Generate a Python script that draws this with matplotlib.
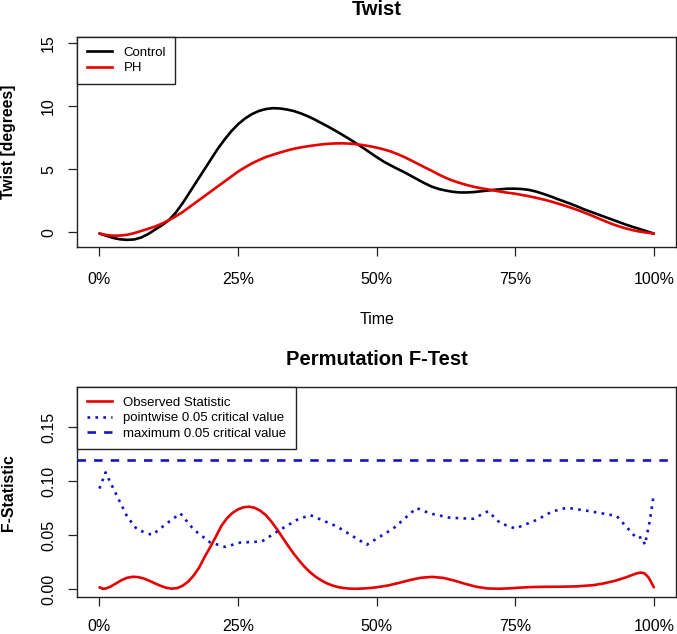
import matplotlib
matplotlib.use("Agg")
import matplotlib.pyplot as plt
from matplotlib.lines import Line2D

plt.rcParams['font.family'] = ['Liberation Sans', 'DejaVu Sans']

# ---------------- data ----------------
time_grid = [0.0, 0.0125, 0.025, 0.0375, 0.05, 0.0625, 0.075, 0.0875, 0.1, 0.1125,
             0.125, 0.1375, 0.15, 0.1625, 0.175, 0.1875, 0.2, 0.2125, 0.225, 0.2375,
             0.25, 0.2625, 0.275, 0.2875, 0.3, 0.3125, 0.325, 0.3375, 0.35, 0.3625,
             0.375, 0.3875, 0.4, 0.4125, 0.425, 0.4375, 0.45, 0.4625, 0.475, 0.4875,
             0.5, 0.5125, 0.525, 0.5375, 0.55, 0.5625, 0.575, 0.5875, 0.6, 0.6125,
             0.625, 0.6375, 0.65, 0.6625, 0.675, 0.6875, 0.7, 0.7125, 0.725, 0.7375,
             0.75, 0.7625, 0.775, 0.7875, 0.8, 0.8125, 0.825, 0.8375, 0.85, 0.8625,
             0.875, 0.8875, 0.9, 0.9125, 0.925, 0.9375, 0.95, 0.9625, 0.975, 0.9875, 1.0]
control_twist = [-0.10, -0.28, -0.45, -0.56, -0.60, -0.57, -0.42, -0.15, 0.20, 0.55,
                 0.95, 1.55, 2.30, 3.15, 4.00, 4.85, 5.70, 6.55, 7.30, 7.98,
                 8.55, 9.00, 9.35, 9.60, 9.75, 9.82, 9.80, 9.72, 9.60, 9.42,
                 9.20, 8.94, 8.65, 8.36, 8.05, 7.73, 7.40, 7.05, 6.70, 6.32,
                 5.95, 5.60, 5.30, 5.02, 4.75, 4.45, 4.15, 3.86, 3.60, 3.42,
                 3.30, 3.20, 3.15, 3.15, 3.18, 3.24, 3.30, 3.36, 3.41, 3.45,
                 3.45, 3.42, 3.35, 3.22, 3.05, 2.86, 2.65, 2.45, 2.25, 2.03,
                 1.80, 1.60, 1.40, 1.20, 1.00, 0.80, 0.60, 0.42, 0.25, 0.07, -0.10]
ph_twist = [-0.10, -0.22, -0.27, -0.26, -0.20, -0.07, 0.10, 0.27, 0.45, 0.68,
            0.95, 1.26, 1.60, 2.00, 2.40, 2.80, 3.20, 3.60, 4.00, 4.40,
            4.80, 5.14, 5.45, 5.71, 5.95, 6.13, 6.30, 6.46, 6.60, 6.71,
            6.80, 6.88, 6.95, 7.00, 7.03, 7.04, 7.02, 6.97, 6.90, 6.81,
            6.70, 6.56, 6.40, 6.19, 5.95, 5.68, 5.40, 5.12, 4.85, 4.56,
            4.30, 4.08, 3.90, 3.74, 3.60, 3.49, 3.40, 3.30, 3.20, 3.12,
            3.05, 2.95, 2.85, 2.73, 2.60, 2.46, 2.30, 2.13, 1.95, 1.76,
            1.55, 1.33, 1.10, 0.87, 0.65, 0.46, 0.30, 0.16, 0.05, -0.03, -0.10]

obs_t = [0.0, 0.006, 0.012, 0.02, 0.03, 0.04, 0.05, 0.06, 0.07, 0.08,
         0.09, 0.1, 0.11, 0.12, 0.13, 0.14, 0.15, 0.16, 0.17, 0.18,
         0.19, 0.2, 0.21, 0.22, 0.23, 0.24, 0.25, 0.26, 0.27, 0.28,
         0.29, 0.3, 0.31, 0.32, 0.33, 0.34, 0.35, 0.36, 0.37, 0.38,
         0.39, 0.4, 0.41, 0.42, 0.43, 0.44, 0.45, 0.46, 0.47, 0.48,
         0.49, 0.5, 0.52, 0.54, 0.56, 0.58, 0.6, 0.62, 0.64, 0.66,
         0.68, 0.7, 0.72, 0.74, 0.76, 0.78, 0.8, 0.83, 0.86, 0.89,
         0.91, 0.93, 0.95, 0.96, 0.97, 0.977, 0.983, 0.99, 0.995, 1.0]
obs_stat = [0.0016, 0.0002, 0.0005, 0.0022, 0.0052, 0.0082, 0.0104, 0.0113, 0.0110, 0.0097,
            0.0076, 0.0052, 0.0030, 0.0012, 0.0003, 0.0008, 0.0030, 0.0068, 0.0125, 0.0200,
            0.0300, 0.0390, 0.0485, 0.0585, 0.0655, 0.0705, 0.0738, 0.0757, 0.0762, 0.0752,
            0.0725, 0.0685, 0.0625, 0.0555, 0.0478, 0.0402, 0.0330, 0.0265, 0.0205, 0.0155,
            0.0113, 0.0080, 0.0053, 0.0033, 0.0018, 0.0009, 0.0004, 0.0002, 0.0003, 0.0006,
            0.0010, 0.0016, 0.0032, 0.0056, 0.0083, 0.0104, 0.0112, 0.0103, 0.0078, 0.0047,
            0.0020, 0.0005, 0.0002, 0.0006, 0.0013, 0.0018, 0.0020, 0.0021, 0.0024, 0.0035,
            0.0052, 0.0076, 0.0108, 0.0128, 0.0146, 0.0152, 0.0145, 0.0110, 0.0065, 0.0016]

crit_t = [0.0, 0.011, 0.026, 0.05, 0.068, 0.095, 0.122, 0.146, 0.17, 0.2,
          0.227, 0.254, 0.293, 0.32, 0.356, 0.38, 0.428, 0.482, 0.53, 0.572,
          0.596, 0.632, 0.674, 0.701, 0.723, 0.75, 0.789, 0.816, 0.843, 0.885,
          0.933, 0.969, 0.978, 0.984, 0.993, 1.0]
crit_pointwise = [0.093, 0.108, 0.092, 0.067, 0.055, 0.050, 0.061, 0.070, 0.055, 0.043,
                  0.039, 0.043, 0.044, 0.053, 0.064, 0.0685, 0.058, 0.041, 0.056, 0.075,
                  0.070, 0.066, 0.065, 0.072, 0.061, 0.056, 0.064, 0.0716, 0.0753, 0.072,
                  0.0676, 0.047, 0.048, 0.041, 0.064, 0.088]
crit_max = 0.1194

x_ticks = [0.0, 0.25, 0.5, 0.75, 1.0]
x_ticklabels = ['0%', '25%', '50%', '75%', '100%']
twist_ticks = [0, 5, 10, 15]
twist_ticklabels = ['0', '5', '10', '15']
f_ticks = [0.0, 0.05, 0.10, 0.15]
f_ticklabels = ['0.00', '0.05', '0.10', '0.15']

# ---------------- figure ----------------
W, H = 677, 634
fig = plt.figure(figsize=(W / 100, H / 100), dpi=100)

def fx(px):
    return px / W

def fy(py):
    return 1 - py / H

left, right = 77.3, 676.0
ax1 = fig.add_axes([fx(left), fy(247.3), fx(right - left), (247.3 - 37.3) / H])
ax2 = fig.add_axes([fx(left), fy(597.3), fx(right - left), (597.3 - 387.3) / H])

RED = '#e60000'
BLUE = '#1414c8'
LW = 1.9

for ax in (ax1, ax2):
    ax.set_xlim(-0.04, 1.04)
    for s in ax.spines.values():
        s.set_linewidth(1.0)
        s.set_color('#222222')
    ax.set_xticks(x_ticks)
    ax.set_xticklabels(x_ticklabels)
    ax.tick_params(axis='both', direction='out', length=6.8, width=0.9,
                   color='#222222', labelsize=11.5)
    ax.tick_params(axis='y', pad=8.5)
ax1.tick_params(axis='x', pad=11)
ax2.tick_params(axis='x', pad=8.6)

# top panel
ax1.plot(time_grid, control_twist, color='black', lw=LW, solid_capstyle='round',
         solid_joinstyle='round')
ax1.plot(time_grid, ph_twist, color=RED, lw=LW, solid_capstyle='round',
         solid_joinstyle='round')
ax1.set_ylim(-1.19, 15.43)
ax1.set_yticks(twist_ticks)
ax1.set_yticklabels(twist_ticklabels, rotation=90, va='center')

# bottom panel
ax2.plot(obs_t, obs_stat, color=RED, lw=LW, solid_capstyle='round',
         solid_joinstyle='round')
ax2.plot(crit_t, crit_pointwise, color=BLUE, lw=LW, linestyle=(0, (1.0, 2.0)))
ax2.axhline(crit_max, color=BLUE, lw=LW, linestyle=(0, (3.2, 3.1)))
ax2.set_ylim(-0.0077, 0.1868)
ax2.set_yticks(f_ticks)
ax2.set_yticklabels(f_ticklabels, rotation=90, va='center')

leg_kw = dict(loc='upper left', bbox_to_anchor=(0, 1), borderaxespad=0,
              fancybox=False, edgecolor='#222222', framealpha=1, fontsize=9.5,
              handlelength=1.9, handletextpad=0.9, borderpad=0.7, labelspacing=0.25)

h1 = [Line2D([], [], color='black', lw=LW), Line2D([], [], color=RED, lw=LW)]
l1 = ax1.legend(h1, ['Control', 'PH'], **leg_kw)
l1.get_frame().set_linewidth(1.0)

h2 = [Line2D([], [], color=RED, lw=LW),
      Line2D([], [], color=BLUE, lw=LW, linestyle=(0, (1.0, 2.0))),
      Line2D([], [], color=BLUE, lw=LW, linestyle=(0, (3.2, 3.1)))]
l2 = ax2.legend(h2, ['Observed Statistic', 'pointwise 0.05 critical value',
                     'maximum 0.05 critical value'], **leg_kw)
l2.get_frame().set_linewidth(1.0)

cx = fx((left + right) / 2)
fig.text(cx, fy(15), 'Twist', ha='center', va='baseline', fontsize=14.5, fontweight='bold')
fig.text(cx, fy(365), 'Permutation F-Test', ha='center', va='baseline', fontsize=14.5, fontweight='bold')
fig.text(cx, fy(324), 'Time', ha='center', va='baseline', fontsize=11.5)
fig.text(fx(8.6), fy(142.3), 'Twist [degrees]', rotation=90, ha='center', va='center',
         fontsize=11.3, fontweight='bold')
fig.text(fx(8.6), fy(492.3), 'F-Statistic', rotation=90, ha='center', va='center',
         fontsize=11.3, fontweight='bold')

fig.savefig('out.png', dpi=100)
